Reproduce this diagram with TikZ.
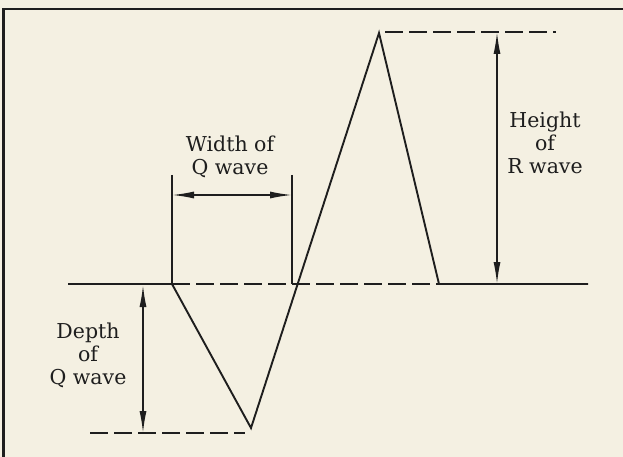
\documentclass[tikz,border=0pt]{standalone}
\usepackage{fontspec}
\setmainfont{DejaVu Serif}
\usetikzlibrary{arrows.meta}
\definecolor{paper}{HTML}{F4F0E2}
\definecolor{ink}{HTML}{1E1E1E}
\begin{document}
\begin{tikzpicture}[x=1pt, y=-1pt,
    wave/.style={ink, line width=1.9pt, line join=miter},
    guide/.style={ink, line width=1.9pt, dash pattern=on 18pt off 6pt},
    tick/.style={ink, line width=1.6pt},
    dim/.style={ink, line width=1.5pt, {Latex[length=22pt,width=7pt]}-{Latex[length=22pt,width=7pt]}},
    lbl/.style={font=\fontsize{20.5}{23}\selectfont, align=center, text=ink, inner sep=0pt}]
  \fill[paper] (0,0) rectangle (623,457);
  \useasboundingbox (0,0) rectangle (623,457);
  % frame
  \draw[ink, line width=2.8pt] (3.4,457) -- (3.4,9) -- (623,9);
  % wave points
  \coordinate (B0) at (68,284);
  \coordinate (Q0) at (172,284);
  \coordinate (Q1) at (251,428);
  \coordinate (R1) at (379,33);
  \coordinate (S0) at (439,284);
  \coordinate (B1) at (588,284);
  \draw[wave] (B0) -- (Q0) -- (Q1) -- (R1) -- (S0) -- (B1);
  \draw[guide] (Q0) -- (S0);
  % width of Q wave
  \coordinate (WL) at (172,175);
  \coordinate (WR) at (292,175);
  \coordinate (WR0) at (292,284);
  \coordinate (WA) at (172,195);
  \coordinate (WB) at (292,195);
  \draw[tick] (WL) -- (Q0);
  \draw[tick] (WR) -- (WR0);
  \draw[dim] (WA) -- (WB);
  \node[lbl] (width) at (230,157) {Width of\\Q wave};
  % depth of Q wave
  \coordinate (D0) at (90,433);
  \coordinate (D1) at (245,433);
  \coordinate (DA) at (143,285);
  \coordinate (DB) at (143,433);
  \draw[guide] (D0) -- (D1);
  \draw[dim] (DA) -- (DB);
  \node[lbl] (depth) at (88,355) {Depth\\of\\Q wave};
  % height of R wave
  \coordinate (H0) at (385,32);
  \coordinate (H1) at (556,32);
  \coordinate (HA) at (497,32);
  \coordinate (HB) at (497,284);
  \draw[guide] (H0) -- (H1);
  \draw[dim] (HA) -- (HB);
  \node[lbl] (height) at (545,143) {Height\\of\\R wave};
\end{tikzpicture}
\end{document}
